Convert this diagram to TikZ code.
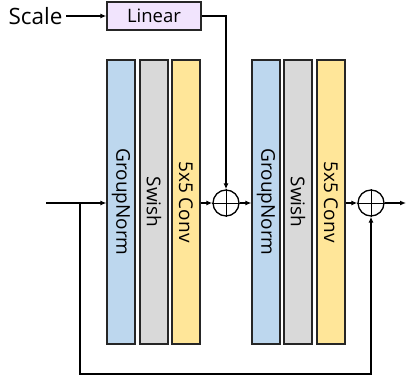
\documentclass[tikz,border=0pt]{standalone}
\usepackage{fontspec}
\setmainfont{Open Sans}
\usetikzlibrary{arrows.meta}

\definecolor{gnblue}{HTML}{BDD7EE}
\definecolor{swgray}{HTML}{D9D9D9}
\definecolor{cvyellow}{HTML}{FFE699}
\definecolor{linlilac}{HTML}{F1E4FD}

\tikzset{
  bar/.style={draw=black!85,line width=1.1pt,minimum width=28pt,minimum height=284pt,
    inner sep=0pt,font=\fontsize{19}{21}\selectfont},
  gnbar/.style={bar,fill=gnblue},
  swbar/.style={bar,fill=swgray},
  cvbar/.style={bar,fill=cvyellow},
  addop/.style={draw,circle,line width=1.3pt,minimum size=26pt,inner sep=0pt},
}

\begin{document}
\begin{tikzpicture}[x=1pt,y=-1pt,line width=1.2pt,>={Latex[length=6pt,width=5pt]}]
  \useasboundingbox (0,0) rectangle (406,379);

  % scale branch
  \node[anchor=east,inner sep=3pt,font=\fontsize{22.5}{24}\selectfont] (scale) at (66,16) {Scale};
  \node[draw=black!85,fill=linlilac,line width=1.3pt,minimum width=94pt,minimum height=28pt,inner sep=0pt,
        font=\fontsize{18.5}{20}\selectfont] (lin) at (154,16) {Linear};

  % first block
  \node[gnbar] (gn1) at (121,202) {\rotatebox{-90}{GroupNorm}};
  \node[swbar] (sw1) at (154,202) {\rotatebox{-90}{Swish}};
  \node[cvbar] (cv1) at (186,202) {\rotatebox{-90}{5x5 Conv}};
  \node[addop] (add1) at (226,203) {};

  % second block
  \node[gnbar] (gn2) at (266,202) {\rotatebox{-90}{GroupNorm}};
  \node[swbar] (sw2) at (298,202) {\rotatebox{-90}{Swish}};
  \node[cvbar] (cv2) at (331,202) {\rotatebox{-90}{5x5 Conv}};
  \node[addop] (add2) at (371,203) {};

  \draw[line width=1pt] (add1.north) -- (add1.south) (add1.west) -- (add1.east);
  \draw[line width=1pt] (add2.north) -- (add2.south) (add2.west) -- (add2.east);

  \coordinate (in) at (46,203);
  \coordinate (split) at (80,203);
  \coordinate (loop) at (80,374);
  \coordinate (out) at (406,203);

  \draw[->] (scale) -- (lin);
  \draw[->] (lin.east) -| (add1.north);
  \draw[->] (in) -- (gn1.west |- in);
  \draw[->] (cv1.east |- add1) -- (add1.west);
  \draw[->] (add1.east) -- (gn2.west |- add1);
  \draw[->] (cv2.east |- add2) -- (add2.west);
  \draw[->] (add2.east) -- (out);
  \draw[->] (split) -- (loop) -| (add2.south);
\end{tikzpicture}
\end{document}
